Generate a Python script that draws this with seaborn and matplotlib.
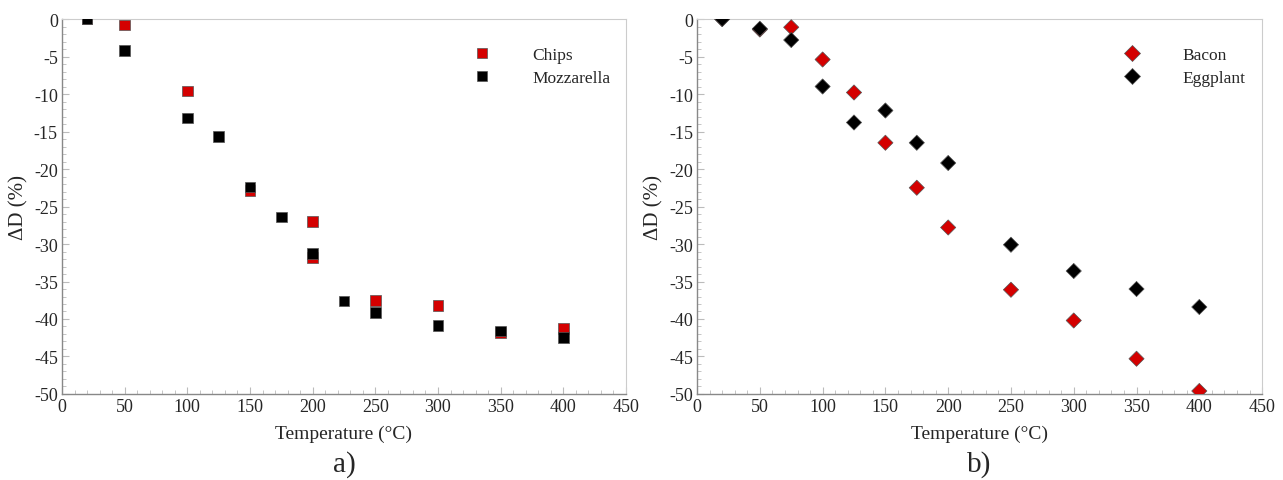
import matplotlib
matplotlib.use("Agg")
import matplotlib.pyplot as plt
import seaborn as sns
import pandas as pd
from matplotlib.ticker import MultipleLocator

# Panel a) data
chips_t = [20, 50, 100, 150, 200, 200, 250, 300, 350, 400]
chips_d = [0, -0.8, -9.6, -22.9, -27.0, -31.8, -37.5, -38.2, -41.8, -41.3]
mozz_t = [20, 50, 100, 125, 150, 175, 200, 225, 250, 300, 350, 400]
mozz_d = [0, -4.2, -13.2, -15.7, -22.4, -26.4, -31.3, -37.6, -39.1, -40.9, -41.6, -42.5]

# Panel b) data
bacon_t = [20, 50, 75, 100, 125, 150, 175, 200, 250, 300, 350, 400]
bacon_d = [0, -1.4, -1.1, -5.4, -9.8, -16.5, -22.5, -27.8, -36.1, -40.2, -45.3, -49.6]
egg_t = [20, 50, 75, 100, 125, 150, 175, 200, 250, 300, 350, 400]
egg_d = [0, -1.3, -2.8, -9.0, -13.8, -12.2, -16.5, -19.2, -30.1, -33.6, -36.0, -38.4]

sns.set_theme(style="white")
plt.rcParams['font.family'] = ['Liberation Serif', 'DejaVu Serif']
plt.rcParams['axes.unicode_minus'] = False

RED = "#D40000"
BLACK = "#000000"

fig = plt.figure(figsize=(12.83, 4.81), dpi=100)
axA = fig.add_axes([0.0483, 0.1788, 0.4396, 0.7796])
axB = fig.add_axes([0.5433, 0.1788, 0.4404, 0.7796])

dfA = pd.concat([
    pd.DataFrame({"T": chips_t, "D": chips_d, "s": "Chips"}),
    pd.DataFrame({"T": mozz_t, "D": mozz_d, "s": "Mozzarella"}),
])
dfB = pd.concat([
    pd.DataFrame({"T": bacon_t, "D": bacon_d, "s": "Bacon"}),
    pd.DataFrame({"T": egg_t, "D": egg_d, "s": "Eggplant"}),
])

sns.scatterplot(data=dfA, x="T", y="D", hue="s", palette=[RED, BLACK],
                marker="s", s=60, linewidth=0.5, edgecolor="#555555", ax=axA, zorder=3)
sns.scatterplot(data=dfB, x="T", y="D", hue="s", palette=[RED, BLACK],
                marker="D", s=60, linewidth=0.5, edgecolor="#555555", ax=axB, zorder=3)

for ax, lab, anch in ((axA, "a)", 0.973), (axB, "b)", 0.971)):
    ax.set_xlim(0, 450)
    ax.set_ylim(-50, 0)
    ax.xaxis.set_major_locator(MultipleLocator(50))
    ax.xaxis.set_minor_locator(MultipleLocator(10))
    ax.yaxis.set_major_locator(MultipleLocator(5))
    ax.yaxis.set_minor_locator(MultipleLocator(1))
    ax.tick_params(which="both", direction="in", color="#bbbbbb", labelsize=13,
                   pad=3, bottom=True, left=True, top=False, right=False)
    ax.tick_params(which="major", length=5, width=0.8)
    ax.tick_params(which="minor", length=3, width=0.6)
    for side in ("top", "right"):
        ax.spines[side].set_color("#cccccc")
        ax.spines[side].set_linewidth(0.8)
    for side in ("bottom", "left"):
        ax.spines[side].set_color("#888888")
        ax.spines[side].set_linewidth(1.0)
    ax.set_xlabel("Temperature (°C)", fontsize=14, labelpad=7)
    ax.set_ylabel("ΔD (%)", fontsize=15, labelpad=4)
    leg = ax.legend(loc="upper right", bbox_to_anchor=(anch, 0.925), frameon=False,
                    fontsize=12.5, handletextpad=1.9, labelspacing=0.4, title=None,
                    borderpad=0, borderaxespad=0, markerscale=1.0)
    ax.text(0.5, -0.15, lab, transform=ax.transAxes, ha="center", va="top", fontsize=21)

fig.savefig("out.png", dpi=100)
